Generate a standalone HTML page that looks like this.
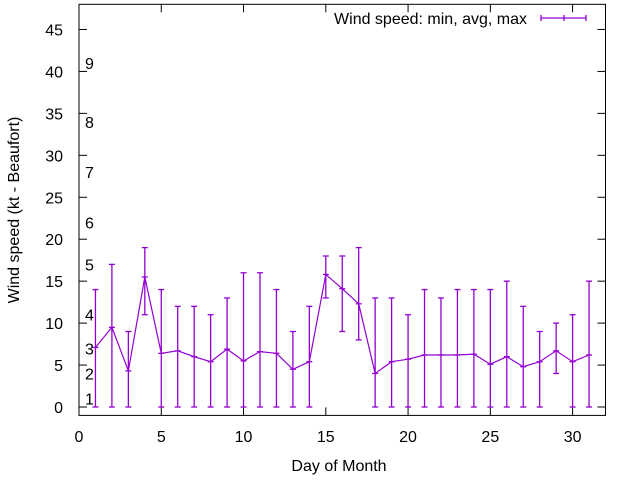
<!DOCTYPE html>
<html><head><meta charset="utf-8"><style>
body{margin:0;background:#fff}
svg{display:block;font-family:"Liberation Sans",sans-serif;font-size:16px}
</style></head><body>
<svg id="chart" width="640" height="480" viewBox="0 0 640 480" xmlns="http://www.w3.org/2000/svg">
<g id="axes"></g>
<g id="marks"></g>
<text transform="translate(19,210) rotate(-90)" text-anchor="middle">Wind speed (kt - Beaufort)</text>
<text x="339" y="471" text-anchor="middle">Day of Month</text>
<g>
<text x="527" y="24" text-anchor="end">Wind speed: min, avg, max</text>
<line x1="541" y1="18" x2="586" y2="18" stroke="#9400d3" stroke-width="1.3"/>
<line x1="541" y1="15" x2="541" y2="21" stroke="#9400d3" stroke-width="1.3"/>
<line x1="586" y1="15" x2="586" y2="21" stroke="#9400d3" stroke-width="1.3"/>
<line x1="564" y1="15" x2="564" y2="21" stroke="#9400d3" stroke-width="1.3"/>
</g>
</svg>
<script>
const days=[1,2,3,4,5,6,7,8,9,10,11,12,13,14,15,16,17,18,19,20,21,22,23,24,25,26,27,28,29,30,31];
const avgs=[7.1,9.5,4.3,15.5,6.4,6.7,6.0,5.4,6.9,5.5,6.6,6.4,4.5,5.4,15.8,14.1,12.3,4.0,5.4,5.7,6.2,6.2,6.2,6.3,5.1,6.0,4.8,5.4,6.7,5.4,6.2];
const mins=[0,0,0,11,0,0,0,0,0,0,0,0,0,0,13,9,8,0,0,0,0,0,0,0,0,0,0,0,4,0,0];
const maxs=[14,17,9,19,14,12,12,11,13,16,16,14,9,12,18,18,19,13,13,11,14,13,14,14,14,15,12,9,10,11,15];
const yTicks=[0,5,10,15,20,25,30,35,40,45];
const xTicks=[0,5,10,15,20,25,30];
const beaufortLabels=["1","2","3","4","5","6","7","8","9"];
const beaufortKt=[1,4,7,11,17,22,28,34,41];
const X0=79,X1=605.5,Y0=415.4,Y1=4.3,xMin=0,xMax=32,yMin=-1,yMax=48;
const sx=v=>X0+(v-xMin)/(xMax-xMin)*(X1-X0);
const sy=v=>Y0-(v-yMin)/(yMax-yMin)*(Y0-Y1);
const NS="http://www.w3.org/2000/svg";
function mk(tag,attrs,parent){const e=document.createElementNS(NS,tag);for(const k in attrs)e.setAttribute(k,attrs[k]);parent.appendChild(e);return e;}
const ax=document.getElementById('axes'),mg=document.getElementById('marks');
let b=mk('rect',{x:X0,y:Y1,width:X1-X0,height:Y0-Y1,fill:'none',stroke:'#000'},ax);


yTicks.forEach(v=>{const y=sy(v);
 mk('line',{x1:X0,y1:y,x2:X0+8,y2:y,stroke:'#000'},ax);
 mk('line',{x1:X1,y1:y,x2:X1-8,y2:y,stroke:'#000'},ax);
 const t=mk('text',{x:63,y:y+6,'text-anchor':'end'},ax);t.textContent=v;
 
 
});
xTicks.forEach(v=>{const x=sx(v);
 mk('line',{x1:x,y1:Y0,x2:x,y2:Y0-8,stroke:'#000'},ax);
 mk('line',{x1:x,y1:Y1,x2:x,y2:Y1+8,stroke:'#000'},ax);
 const t=mk('text',{x:x,y:442,'text-anchor':'middle'},ax);t.textContent=v;
 
 
});
beaufortLabels.forEach((l,i)=>{const t=mk('text',{x:85,y:sy(beaufortKt[i])+6},ax);t.textContent=l;
 
 
});
const c='#9400d3';
const pl=mk('polyline',{points:days.map((d,i)=>sx(d)+','+sy(avgs[i])).join(' '),fill:'none',stroke:c,'stroke-width':1.2},mg);


days.forEach((d,i)=>{const x=sx(d),g=mk('g',{},mg);
 
 
 mk('line',{x1:x,y1:sy(mins[i]),x2:x,y2:sy(maxs[i]),stroke:c,'stroke-width':1.3},g);
 [mins[i],maxs[i],avgs[i]].forEach(v=>mk('line',{x1:x-3,y1:sy(v),x2:x+3,y2:sy(v),stroke:c,'stroke-width':1.3},g));
});
</script>
</body></html>
